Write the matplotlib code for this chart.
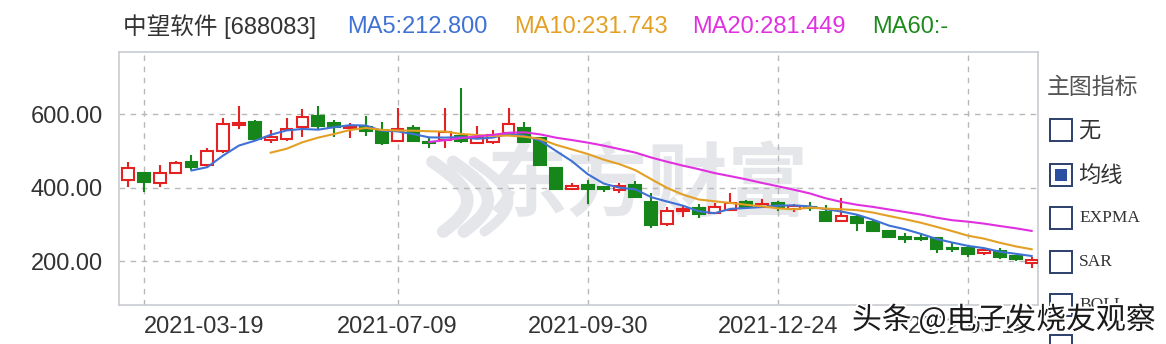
import numpy as np
import pandas as pd
import matplotlib
matplotlib.use("Agg")
import matplotlib.pyplot as plt
from matplotlib.patches import Rectangle
import matplotlib.patheffects as pe

# weekly candles
opens = [420, 440, 412, 440, 469, 461, 499, 570, 578, 529,
         532, 565, 595, 576, 562, 565, 556, 527, 562, 524,
         529, 540, 521, 524, 548, 562, 534, 453, 396, 407,
         402, 393, 407, 361, 301, 336, 344, 331, 339, 361,
         347, 358, 342, 347, 333, 309, 320, 306, 282, 265,
         263, 263, 236, 235, 222, 227, 214, 195]
highs = [469, 440, 461, 472, 488, 507, 589, 622, 584, 556,
         589, 614, 622, 584, 576, 595, 578, 616, 570, 534,
         616, 671, 567, 556, 616, 578, 537, 456, 412, 420,
         404, 412, 418, 385, 347, 352, 355, 358, 385, 366,
         369, 363, 355, 361, 352, 371, 326, 312, 285, 276,
         276, 266, 249, 241, 233, 236, 216, 211]
lows = [401, 388, 401, 437, 448, 453, 494, 559, 529, 521,
        527, 537, 556, 537, 534, 540, 516, 524, 524, 507,
        507, 521, 518, 518, 546, 522, 461, 396, 394, 355,
        388, 385, 372, 290, 295, 320, 317, 328, 336, 345,
        345, 336, 333, 336, 309, 306, 282, 282, 263, 248,
        254, 222, 225, 212, 216, 205, 200, 181]
closes = [453, 415, 440, 467, 456, 499, 573, 576, 532, 537,
          559, 592, 567, 565, 565, 554, 521, 559, 527, 521,
          551, 527, 537, 543, 573, 524, 461, 396, 404, 396,
          397, 404, 374, 298, 336, 341, 328, 347, 358, 347,
          355, 347, 350, 344, 309, 323, 303, 282, 265, 260,
          260, 233, 233, 219, 230, 211, 205, 203]

tick_idx = [1, 17, 29, 41, 53]
tick_labels = ["2021-03-19", "2021-07-09", "2021-09-30", "2021-12-24", "2022-03-18"]
y_ticks = [200, 400, 600]

header_texts = ["MA5:212.800", "MA10:231.743", "MA20:281.449", "MA60:-"]
header_colors = ["#3f72d4", "#e3a024", "#e030e0", "#1e8a1e"]
header_x = [347, 514, 692, 872]

panel_items = ["无", "均线", "EXPMA", "SAR", "BOLL"]

W, H = 1166, 344
fig = plt.figure(figsize=(W / 100, H / 100), dpi=100)
fig.patch.set_facecolor("white")

ax = fig.add_axes([119 / W, 1 - 305 / H, (1038 - 119) / W, (305 - 52) / H])
ax.set_xlim(-0.57, 57.4)
ax.set_ylim(80.3, 768.7)

sans = ["Liberation Sans", "Noto Sans CJK SC"]
cjk = ["Noto Sans CJK SC", "DejaVu Sans"]

# faint vendor watermark (logo swoosh + name)
wm = "#e4e6ea"
t = np.linspace(0, 1, 40)
for dx, lw in [(0.0, 9), (1.3, 9), (2.6, 7)]:
    xs = 19.2 + dx + 2.2 * np.sin(t * np.pi * 0.9)
    ys = 470 - 190 * t
    ax.plot(xs, ys, color=wm, lw=lw, solid_capstyle="round", zorder=0)
ax.text(0.575, 0.47, "东方财富", transform=ax.transAxes, ha="center", va="center",
        fontsize=58, fontweight="bold", color=wm, family=cjk, zorder=0)

up_c = "#e52222"
dn_c = "#16861a"
bw = 0.74
for i in range(len(closes)):
    o, h, l, c = opens[i], highs[i], lows[i], closes[i]
    col = up_c if c >= o else dn_c
    ax.vlines(i, l, h, color=col, lw=1.5, zorder=2)
    lo, hi = min(o, c), max(o, c)
    if hi - lo < 3:
        ax.hlines((o + c) / 2, i - bw / 2, i + bw / 2, color=col, lw=3, zorder=3)
    else:
        face = "white" if c >= o else dn_c
        ax.add_patch(Rectangle((i - bw / 2, lo), bw, hi - lo, facecolor=face,
                               edgecolor=col, lw=1.5, zorder=3))

cl = pd.Series(closes, dtype=float)
x = np.arange(len(closes))
for n, col in zip([5, 10, 20], header_colors[:3]):
    ax.plot(x, cl.rolling(n).mean(), color=col, lw=1.5, zorder=4)

ax.set_xticks(tick_idx)
ax.set_xticklabels(tick_labels, family=sans, fontsize=17, color="#333333")
ax.get_xticklabels()[0].set_horizontalalignment("left")
ax.set_yticks(y_ticks)
ax.set_yticklabels(["%.2f" % v for v in y_ticks], family=sans, fontsize=17, color="#333333")
ax.tick_params(axis="both", length=0)
ax.tick_params(axis="y", pad=11.5)
ax.tick_params(axis="x", pad=8)
ax.grid(True, ls=(0, (4, 4)), color="#b8b8b8", lw=1)
ax.set_axisbelow(True)
for s in ax.spines.values():
    s.set_color("#c8ccd2")
    s.set_linewidth(1.2)

# header line
fig.text(123 / W, 1 - 27 / H, "中望软件 [688083]", ha="left", va="center",
         family=sans, fontsize=17, color="#333333")
for txt, c, px in zip(header_texts, header_colors, header_x):
    fig.text(px / W, 1 - 27 / H, txt, ha="left", va="center", family=sans,
             fontsize=17, color=c)

# right side indicator panel
fig.text(1047 / W, 1 - 87 / H, "主图指标", ha="left", va="center", family=cjk,
         fontsize=16.5, color="#555555")
ys = [130, 175, 218, 262, 305, 346]
for k, yy in enumerate(ys):
    fig.patches.append(Rectangle((1050 / W, 1 - (yy + 11) / H), 22 / W, 22 / H,
                                 transform=fig.transFigure, facecolor="white",
                                 edgecolor="#2c3f6c", lw=1.4))
    if k == 1:
        fig.patches.append(Rectangle((1055 / W, 1 - (yy + 6) / H), 12 / W, 12 / H,
                                     transform=fig.transFigure, facecolor="#2a4fa0",
                                     edgecolor="none"))
    if k < len(panel_items):
        lab = panel_items[k]
        if k < 2:
            fig.text(1078 / W, 1 - yy / H, lab, ha="left", va="center", family=cjk,
                     fontsize=16, color="#333333")
        else:
            fig.text(1079 / W, 1 - yy / H, lab, ha="left", va="center",
                     family="Liberation Serif", fontsize=12.5, color="#333333")

# repost watermark
fig.text(852 / W, 1 - 320 / H, "头条 @电子发烧友观察", ha="left", va="center",
         family=cjk, fontsize=21.5, color="#1a1a1a",
         path_effects=[pe.withStroke(linewidth=3, foreground="white")])

fig.savefig("out.png", dpi=100, facecolor="white")
